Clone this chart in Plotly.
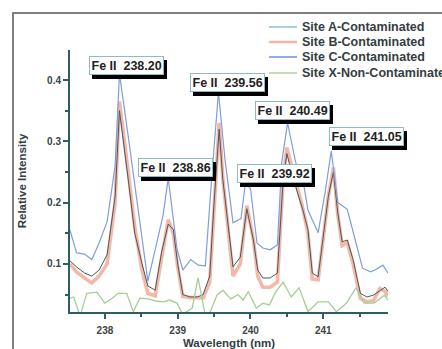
import plotly.graph_objects as go

# ---------------- data ----------------
series_names = ["Site A-Contaminated", "Site B-Contaminated",
                "Site C-Contaminated", "Site X-Non-Contaminated"]

wl_ab = [237.52, 237.61, 237.72, 237.82, 237.92, 238.03, 238.14, 238.20, 238.32, 238.41,
         238.51, 238.59, 238.69, 238.78, 238.87, 238.94, 239.00, 239.07, 239.17, 239.27,
         239.35, 239.44, 239.50, 239.57, 239.62, 239.76, 239.86, 239.95, 240.04, 240.10,
         240.17, 240.27, 240.37, 240.45, 240.50, 240.59, 240.72, 240.79, 240.85, 240.93,
         241.07, 241.14, 241.20, 241.26, 241.33, 241.41, 241.51, 241.60, 241.69, 241.78,
         241.85, 241.89]
site_a = [0.105, 0.095, 0.085, 0.080, 0.090, 0.115, 0.21, 0.35, 0.238, 0.15,
          0.10, 0.064, 0.057, 0.12, 0.165, 0.156, 0.10, 0.050, 0.046, 0.046,
          0.050, 0.080, 0.20, 0.32, 0.238, 0.095, 0.111, 0.19, 0.139, 0.090,
          0.077, 0.077, 0.085, 0.238, 0.28, 0.238, 0.188, 0.156, 0.085, 0.079,
          0.21, 0.25, 0.183, 0.136, 0.139, 0.107, 0.052, 0.046, 0.049, 0.057,
          0.062, 0.055]
site_b = [0.100, 0.087, 0.077, 0.069, 0.080, 0.100, 0.20, 0.365, 0.25, 0.16,
          0.09, 0.052, 0.048, 0.11, 0.172, 0.15, 0.095, 0.047, 0.045, 0.045,
          0.045, 0.07, 0.20, 0.33, 0.24, 0.080, 0.100, 0.195, 0.14, 0.08,
          0.062, 0.062, 0.07, 0.24, 0.29, 0.25, 0.19, 0.15, 0.075, 0.074,
          0.21, 0.257, 0.18, 0.13, 0.135, 0.10, 0.044, 0.038, 0.040, 0.060,
          0.055, 0.047]

wl_c = [237.52, 237.61, 237.72, 237.82, 237.92, 238.03, 238.14, 238.20, 238.32, 238.45,
        238.59, 238.69, 238.80, 238.87, 238.99, 239.07, 239.18, 239.28, 239.38, 239.47,
        239.56, 239.65, 239.76, 239.87, 239.93, 240.00, 240.09, 240.17, 240.27, 240.37,
        240.43, 240.51, 240.62, 240.72, 240.79, 240.86, 240.93, 241.03, 241.11, 241.20,
        241.33, 241.44, 241.54, 241.65, 241.71, 241.82, 241.89]
site_c = [0.155, 0.118, 0.116, 0.107, 0.134, 0.169, 0.26, 0.41, 0.308, 0.19,
          0.072, 0.123, 0.18, 0.24, 0.125, 0.090, 0.107, 0.098, 0.097, 0.245,
          0.38, 0.27, 0.167, 0.174, 0.232, 0.223, 0.134, 0.126, 0.123, 0.131,
          0.266, 0.33, 0.266, 0.238, 0.188, 0.169, 0.151, 0.22, 0.284, 0.20,
          0.189, 0.139, 0.093, 0.087, 0.090, 0.098, 0.085]

wl_x = [237.52, 237.57, 237.66, 237.75, 237.89, 238.00, 238.10, 238.18, 238.30, 238.39,
        238.48, 238.59, 238.72, 238.80, 238.89, 238.99, 239.07, 239.20, 239.28, 239.38,
        239.44, 239.54, 239.62, 239.73, 239.83, 239.90, 239.97, 240.08, 240.17, 240.26,
        240.35, 240.45, 240.56, 240.67, 240.79, 240.93, 241.07, 241.18, 241.32, 241.45,
        241.56, 241.70, 241.84, 241.89]
site_x = [0.044, 0.046, 0.015, 0.052, 0.054, 0.036, 0.044, 0.052, 0.052, 0.022,
          0.044, 0.043, 0.039, 0.038, 0.041, 0.036, 0.018, 0.028, 0.077, 0.015,
          0.020, 0.049, 0.057, 0.043, 0.050, 0.041, 0.055, 0.028, 0.036, 0.033,
          0.055, 0.070, 0.046, 0.061, 0.022, 0.038, 0.038, 0.022, 0.036, 0.061,
          0.036, 0.036, 0.049, 0.041]

peak_labels = ["Fe II\u00a0 238.20", "Fe II\u00a0 238.86", "Fe II\u00a0 239.56",
               "Fe II\u00a0 239.92", "Fe II\u00a0 240.49", "Fe II\u00a0 241.05"]

x_ticks = [238, 239, 240, 241]
y_ticks = [0.1, 0.2, 0.3, 0.4]

# ---------------- style / layout ----------------
W, H = 442, 349
L, R, T, B = 70, 54, 50, 37
PW, PH = W - L - R, H - T - B

def px_x(px):
    return (px - L) / PW

def px_y(py):
    return (H - B - py) / PH

FONT = "Liberation Sans, Arial, sans-serif"
AXIS_COL = "#2f5d63"
TEXT_COL = "#333d42"

plot_colors = ["#4a585a", "rgba(240,160,140,0.75)", "#7f9de0", "#a3cf94"]
legend_colors = ["#8fc3cc", "#f5b5a5", "#6f8fd8", "#a9d39c"]
widths = [1.0, 3.6, 1.2, 1.3]

fig = go.Figure()
order = [1, 0, 2, 3]
xs = [wl_ab, wl_ab, wl_c, wl_x]
ys = [site_a, site_b, site_c, site_x]
for i in order:
    fig.add_trace(go.Scatter(x=xs[i], y=ys[i], mode="lines", name=series_names[i],
                             line=dict(color=plot_colors[i], width=widths[i]),
                             showlegend=False))

shapes = []
annotations = []

# outer frame
shapes.append(dict(type="rect", xref="paper", yref="paper",
                   x0=px_x(13), x1=px_x(460), y0=px_y(370), y1=px_y(13),
                   line=dict(color="#555555", width=1.5), layer="below"))

# manual legend
leg_rows = [27, 42, 57, 73]
for i, name in enumerate(series_names):
    yy = px_y(leg_rows[i])
    shapes.append(dict(type="line", xref="paper", yref="paper",
                       x0=px_x(269), x1=px_x(297), y0=yy, y1=yy,
                       line=dict(color=legend_colors[i], width=1.5 if i != 1 else 2.5)))
    annotations.append(dict(xref="paper", yref="paper", x=px_x(300), y=yy,
                            xanchor="left", yanchor="middle", showarrow=False,
                            text=name, font=dict(family=FONT, size=12.5, color=TEXT_COL,
                                                 weight="bold")))

# peak label boxes (centre pixels)
box_centres = [(126, 65.5), (175, 167.5), (227.5, 82.5), (274, 173), (292, 110.5), (366, 136)]
for (cx, cy), lab in zip(box_centres, peak_labels):
    annotations.append(dict(xref="paper", yref="paper", x=px_x(cx), y=px_y(cy),
                            xanchor="center", yanchor="middle", showarrow=False,
                            text=lab, xshift=3, yshift=-4,
                            font=dict(family=FONT, size=12.5, color="#000000", weight="bold"),
                            bgcolor="#000000", bordercolor="#000000", borderwidth=1,
                            borderpad=1.5))
    annotations.append(dict(xref="paper", yref="paper", x=px_x(cx), y=px_y(cy),
                            xanchor="center", yanchor="middle", showarrow=False,
                            text=lab,
                            font=dict(family=FONT, size=12.5, color="#1e2326", weight="bold"),
                            bgcolor="#ffffff", bordercolor="#8fbcc4", borderwidth=1,
                            borderpad=1.5))

fig.update_layout(
    width=W, height=H,
    margin=dict(l=L, r=R, t=T, b=B, pad=0),
    paper_bgcolor="white", plot_bgcolor="white",
    showlegend=False,
    shapes=shapes, annotations=annotations,
    font=dict(family=FONT, color=TEXT_COL),
)

fig.update_xaxes(range=[237.52, 241.89], showgrid=False, zeroline=False,
                 automargin=False,
                 showline=True, linecolor=AXIS_COL, linewidth=2,
                 ticks="outside", ticklen=5, tickwidth=1.5, tickcolor=AXIS_COL,
                 tickvals=x_ticks, ticklabelstandoff=3,
                 minor=dict(dtick=0.5, tick0=237.5, ticks="outside", ticklen=3,
                            tickwidth=1.5, tickcolor=AXIS_COL),
                 tickfont=dict(family=FONT, size=10, color="#3a4444", weight="bold"),
                 title=dict(text="Wavelength (nm)", standoff=11,
                            font=dict(family=FONT, size=11.5, color=TEXT_COL, weight="bold")))
fig.update_yaxes(range=[0.0215, 0.449], showgrid=False, zeroline=False,
                 automargin=False,
                 showline=True, linecolor=AXIS_COL, linewidth=2,
                 ticks="outside", ticklen=5, tickwidth=1.5, tickcolor=AXIS_COL,
                 tickvals=y_ticks, ticktext=[f"{v:.1f}" for v in y_ticks],
                 minor=dict(dtick=0.05, tick0=0, ticks="outside", ticklen=3,
                            tickwidth=1.5, tickcolor=AXIS_COL),
                 tickfont=dict(family=FONT, size=10, color="#3a4444", weight="bold"),
                 title=dict(text="Relative Intensity", standoff=18,
                            font=dict(family=FONT, size=11.5, color=TEXT_COL, weight="bold")))

fig.write_html("out.html")
